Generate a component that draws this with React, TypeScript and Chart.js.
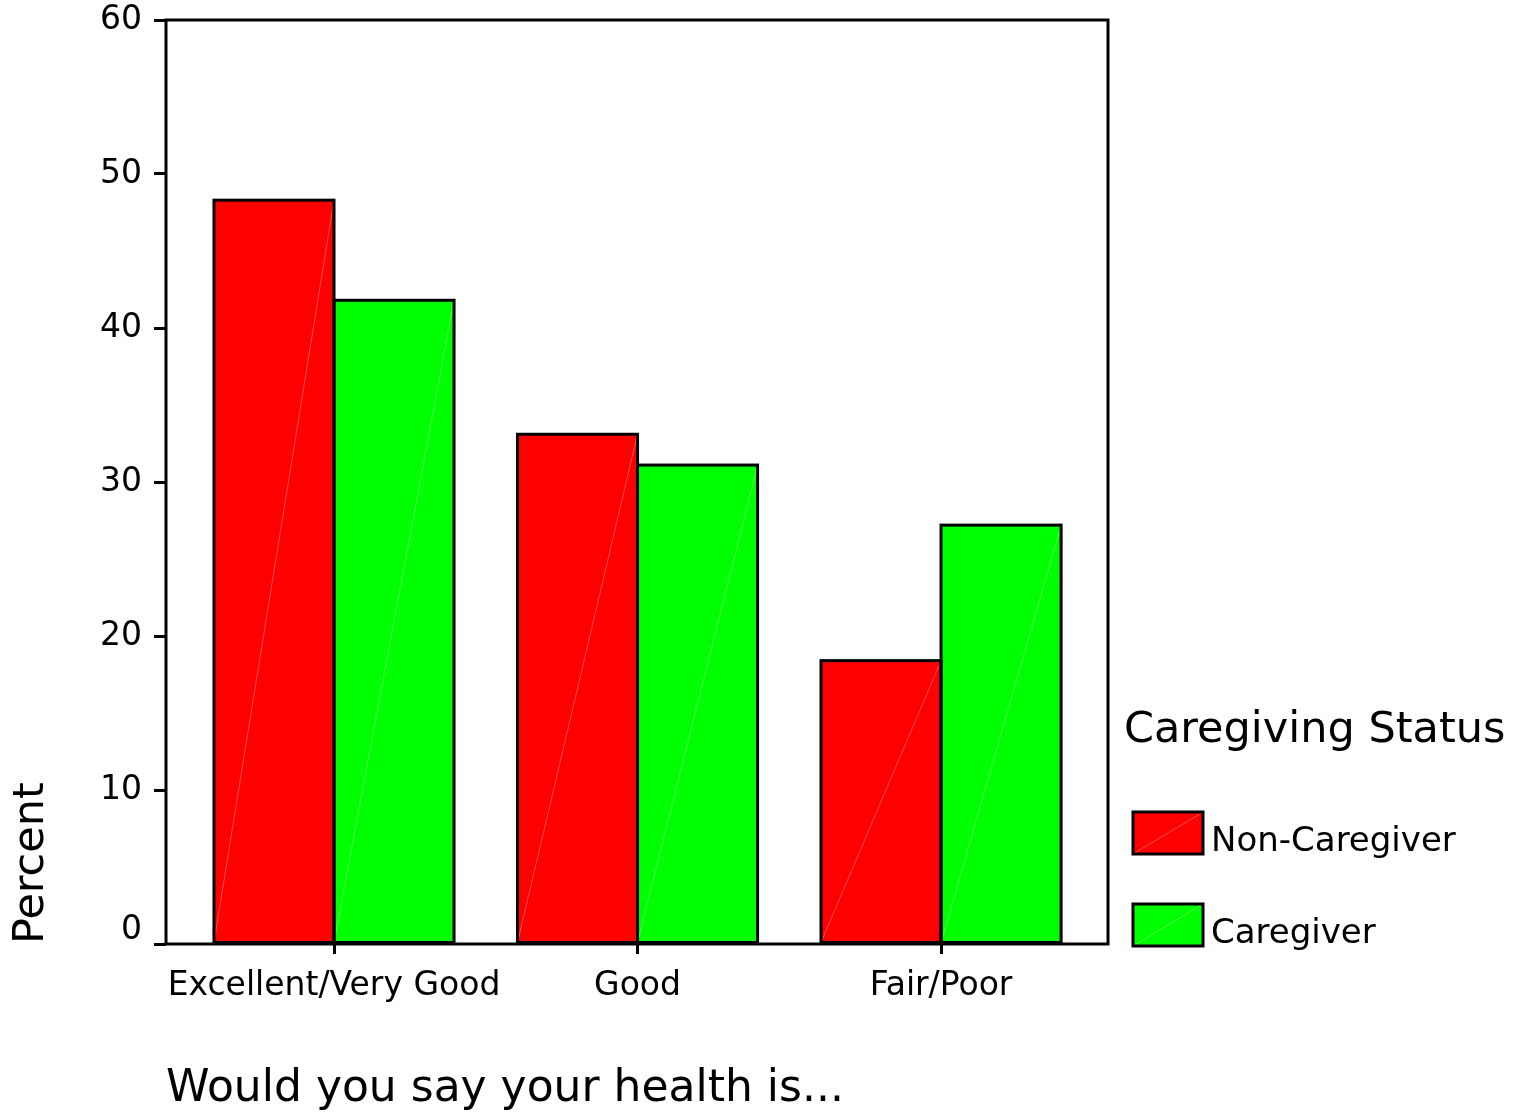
import React, { useEffect, useRef } from "react";
import { Chart, registerables } from "chart.js";

Chart.register(...registerables);

const categories = ["Excellent/Very Good", "Good", "Fair/Poor"];
const categoryPositions = [0, 1, 2];
const nonCaregiverValues = [48.3, 33.1, 18.4];
const caregiverValues = [41.8, 31.1, 27.2];
const seriesLabels = ["Non-Caregiver", "Caregiver"];
const seriesColors = ["#ff0000", "#00ff00"];
const yTicks = [0, 10, 20, 30, 40, 50, 60];
const xTitle = "Would you say your health is...";
const yTitle = "Percent";
const legendTitle = "Caregiving Status";

const FONT = "'DejaVu Sans', sans-serif";

const barOutline = {
  id: "barOutline",
  afterDatasetsDraw(chart: any) {
    const ctx = chart.ctx;
    ctx.save();
    const rects: any[] = [];
    chart.data.datasets.forEach((_ds: any, di: number) => {
      const meta = chart.getDatasetMeta(di);
      meta.data.forEach((el: any) => {
        const { x, y, base, width } = el.getProps(["x", "y", "base", "width"], true);
        rects.push({ l: x - width / 2, r: x + width / 2, y, base });
      });
    });
    ctx.strokeStyle = "rgba(255,255,255,0.3)";
    ctx.lineWidth = 1;
    rects.forEach((b) => {
      ctx.beginPath();
      ctx.moveTo(b.l, b.base);
      ctx.lineTo(b.r, b.y);
      ctx.stroke();
    });
    ctx.strokeStyle = "#000";
    ctx.lineWidth = 3;
    rects.forEach((b) => {
      ctx.strokeRect(b.l, b.y, b.r - b.l, b.base - b.y);
    });
    ctx.restore();
  },
};

const frameAndLegend = {
  id: "frameAndLegend",
  afterDraw(chart: any) {
    const ctx = chart.ctx;
    const a = chart.chartArea;
    ctx.save();
    ctx.strokeStyle = "#000";
    ctx.lineWidth = 3;
    ctx.strokeRect(a.left, a.top, a.right - a.left, a.bottom - a.top);

    ctx.fillStyle = "#000";
    ctx.textAlign = "left";
    ctx.textBaseline = "alphabetic";
    ctx.font = `43px ${FONT}`;
    ctx.fillText(legendTitle, 1124, 742);

    chart.data.datasets.forEach((ds: any, i: number) => {
      const bx = 1133;
      const by = 812 + i * 92;
      const bw = 70;
      const bh = 42;
      ctx.fillStyle = ds.backgroundColor;
      ctx.fillRect(bx, by, bw, bh);
      ctx.strokeStyle = "rgba(255,255,255,0.3)";
      ctx.lineWidth = 1;
      ctx.beginPath();
      ctx.moveTo(bx, by + bh);
      ctx.lineTo(bx + bw, by);
      ctx.stroke();
      ctx.strokeStyle = "#000";
      ctx.lineWidth = 3;
      ctx.strokeRect(bx, by, bw, bh);
      ctx.fillStyle = "#000";
      ctx.font = `34px ${FONT}`;
      ctx.fillText(ds.label, 1211, by + 39);
    });
    ctx.restore();
  },
};

export default function App() {
  const ref = useRef<HTMLCanvasElement>(null);

  useEffect(() => {
    Chart.defaults.font.family = FONT;
    Chart.defaults.color = "#000";
    const chart = new Chart(ref.current as HTMLCanvasElement, {
      type: "bar",
      data: {
        datasets: [
          {
            label: seriesLabels[0],
            data: categoryPositions.map((p, i) => ({ x: p, y: nonCaregiverValues[i] })),
            backgroundColor: seriesColors[0],
            borderWidth: 0,
          },
          {
            label: seriesLabels[1],
            data: categoryPositions.map((p, i) => ({ x: p, y: caregiverValues[i] })),
            backgroundColor: seriesColors[1],
            borderWidth: 0,
          },
        ],
      } as any,
      options: {
        animation: false,
        responsive: false,
        layout: { padding: { left: 0, top: 20, right: 428, bottom: 0 } },
        plugins: { legend: { display: false }, tooltip: { enabled: false } },
        datasets: { bar: { categoryPercentage: 0.791, barPercentage: 1 } },
        scales: {
          x: {
            type: "linear",
            offset: false,
            min: -0.5535,
            max: 2.55,
            afterBuildTicks: (s: any) => {
              s.ticks = categoryPositions.map((v) => ({ value: v }));
            },
            afterFit: (s: any) => {
              s.height = 168;
              s.paddingLeft = 0;
              s.paddingRight = 0;
            },
            ticks: {
              callback: (v: any) => categories[v] ?? "",
              font: { size: 33 },
              color: "#000",
              padding: 13,
              maxRotation: 0,
              minRotation: 0,
              autoSkip: false,
            },
            grid: {
              display: true,
              offset: false,
              drawOnChartArea: false,
              drawTicks: true,
              tickLength: 10,
              lineWidth: 3,
              color: "#000",
            },
            border: { display: false },
            title: {
              display: true,
              text: xTitle,
              align: "start",
              font: { size: 44 },
              color: "#000",
              padding: { top: 0, bottom: -4 },
            },
          },
          y: {
            min: 0,
            max: 60,
            afterBuildTicks: (s: any) => {
              s.ticks = yTicks.map((v) => ({ value: v }));
            },
            afterFit: (s: any) => {
              s.width = 166;
              s.paddingTop = 0;
              s.paddingBottom = 0;
            },
            ticks: {
              callback: (v: any) => (v === 0 ? ["0", ""] : String(v)),
              font: { size: 33, lineHeight: 0.8125 },
              padding: 12,
              color: "#000",
            },
            grid: {
              display: true,
              drawOnChartArea: false,
              drawTicks: true,
              tickLength: 12,
              lineWidth: 3,
              color: "#000",
            },
            border: { display: false },
            title: {
              display: true,
              text: yTitle,
              align: "start",
              font: { size: 43 },
              color: "#000",
              padding: { top: 6, bottom: 0 },
            },
          },
        },
      } as any,
      plugins: [barOutline, frameAndLegend],
    });
    return () => chart.destroy();
  }, []);

  return (
    <div
      style={{
        position: "absolute",
        left: 0,
        top: 0,
        width: 1536,
        height: 1112,
        background: "#fff",
      }}
    >
      <canvas ref={ref} width={1536} height={1112} style={{ display: "block" }} />
    </div>
  );
}
